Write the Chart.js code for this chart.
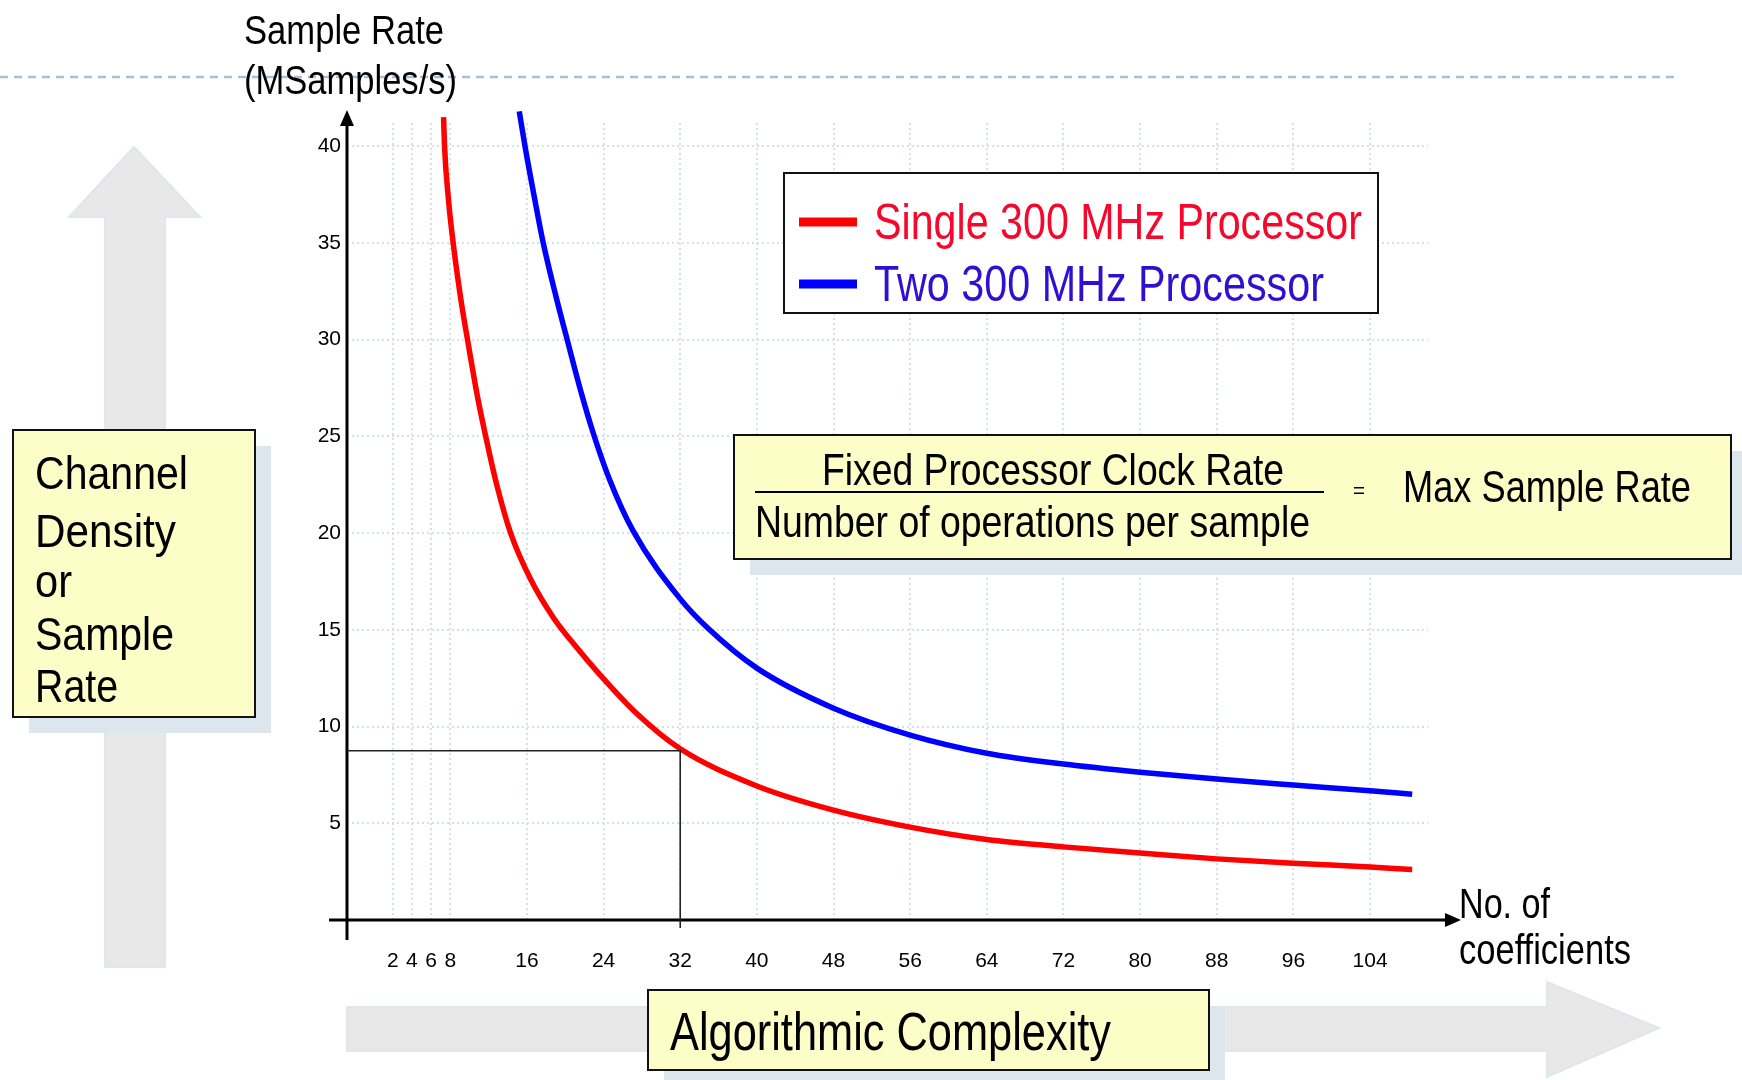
<!DOCTYPE html>
<html>
<head>
<meta charset="utf-8">
<script src="https://cdn.jsdelivr.net/npm/chart.js@4.4.1/dist/chart.umd.min.js"></script>
<style>
  html, body { margin: 0; padding: 0; background: #fff; overflow: hidden; }
  #chart { display: block; }
</style>
</head>
<body>
<canvas id="chart" width="1742" height="1080"></canvas>
<script>
// values (no. of coefficients -> MSamples/s)
const seriesNames = ["Single 300 MHz Processor", "Two 300 MHz Processor"];
const singleX = [7.3, 7.4, 7.8, 8.3, 9.1, 9.8, 10.9, 11.7, 12.8, 14.3, 16.4, 18.8, 21, 23.7, 27.4, 32, 40, 48, 56, 64, 72, 80, 88, 96, 104, 108.4];
const singleY = [41.5, 40, 37.3, 35, 32.1, 30, 26.9, 25, 22.6, 20, 17.6, 15.6, 14.2, 12.63, 10.7, 8.85, 6.93, 5.68, 4.8, 4.16, 3.78, 3.46, 3.16, 2.93, 2.74, 2.61];
const twoX = [15.2, 15.8, 16.8, 17.7, 19.1, 20.2, 21.7, 22.9, 24.6, 27.1, 32, 34.9, 40, 48, 56, 64, 72, 80, 88, 96, 104, 108.4];
const twoY = [41.8, 40, 37.3, 35, 32.1, 30, 27.2, 25.2, 22.8, 20.1, 16.6, 15.08, 13.02, 10.95, 9.56, 8.62, 8.06, 7.64, 7.29, 6.98, 6.68, 6.5];
const xTicks = [2, 4, 6, 8, 16, 24, 32, 40, 48, 56, 64, 72, 80, 88, 96, 104];
const yTicks = [5, 10, 15, 20, 25, 30, 35, 40];
const markX = 32, markY = 8.75;

const SANS = "'Liberation Sans', Arial, sans-serif";

function fitText(ctx, txt, x, y, size, w, color) {
  ctx.save();
  ctx.font = size + "px " + SANS;
  ctx.fillStyle = color || "#000";
  ctx.textBaseline = "alphabetic";
  ctx.textAlign = "left";
  const m = ctx.measureText(txt).width;
  ctx.translate(x, y);
  ctx.scale(w / m, 1);
  ctx.fillText(txt, 0, 0);
  ctx.restore();
}

function box(ctx, x, y, w, h, shadow) {
  ctx.save();
  if (shadow) {
    ctx.fillStyle = "#dce6ec";
    ctx.fillRect(x + shadow, y + shadow, w, h);
  }
  ctx.fillStyle = "#fdfdc8";
  ctx.fillRect(x, y, w, h);
  ctx.strokeStyle = "#111";
  ctx.lineWidth = 2;
  ctx.strokeRect(x, y, w, h);
  ctx.restore();
}

function poly(ctx, pts, fill, stroke) {
  ctx.save();
  ctx.beginPath();
  pts.forEach((p, i) => i ? ctx.lineTo(p[0], p[1]) : ctx.moveTo(p[0], p[1]));
  ctx.closePath();
  ctx.fillStyle = fill;
  ctx.fill();
  ctx.strokeStyle = stroke;
  ctx.lineWidth = 2;
  ctx.stroke();
  ctx.restore();
}

const decor = {
  id: "decor",
  beforeDraw(chart) {
    const ctx = chart.ctx;
    ctx.save();
    ctx.fillStyle = "#fff";
    ctx.fillRect(0, 0, chart.width, chart.height);

    // dashed rule at the top
    ctx.strokeStyle = "#a9bfd6";
    ctx.lineWidth = 2.5;
    ctx.setLineDash([8, 6]);
    ctx.beginPath();
    ctx.moveTo(0, 77);
    ctx.lineTo(1675, 77);
    ctx.stroke();
    ctx.setLineDash([]);
    ctx.restore();

    // big grey arrows
    poly(ctx, [[105, 967], [105, 217], [69, 217], [134, 147], [200, 217], [165, 217], [165, 967]], "#e8e8e8", "#dde7ec");
    poly(ctx, [[347, 1007], [1547, 1007], [1547, 982], [1659, 1028], [1547, 1077], [1547, 1051], [347, 1051]], "#e8e8e8", "#dde7ec");

    // left label box
    box(ctx, 13, 430, 242, 287, 16);
    const lines = [["Channel", 489, 153], ["Density", 547, 141], ["or", 597, 37], ["Sample", 650, 139], ["Rate", 702, 83]];
    lines.forEach(l => fitText(ctx, l[0], 35, l[1], 46, l[2]));
  },
  afterDraw(chart) {
    const ctx = chart.ctx;
    const xs = chart.scales.x, ys = chart.scales.y;
    const x0 = xs.left, y0 = ys.getPixelForValue(0);

    ctx.save();
    // axes with arrow heads
    ctx.strokeStyle = "#000";
    ctx.fillStyle = "#000";
    ctx.lineWidth = 3;
    ctx.beginPath();
    ctx.moveTo(x0, 940);
    ctx.lineTo(x0, 120);
    ctx.moveTo(329, y0);
    ctx.lineTo(1450, y0);
    ctx.stroke();
    ctx.beginPath();
    ctx.moveTo(x0, 110); ctx.lineTo(x0 - 7, 126); ctx.lineTo(x0 + 7, 126); ctx.closePath();
    ctx.fill();
    ctx.beginPath();
    ctx.moveTo(1461, y0); ctx.lineTo(1445, y0 - 7); ctx.lineTo(1445, y0 + 7); ctx.closePath();
    ctx.fill();

    // guide lines at 32 coefficients
    const gx = xs.getPixelForValue(markX), gy = ys.getPixelForValue(markY);
    ctx.strokeStyle = "#222";
    ctx.lineWidth = 1.6;
    ctx.beginPath();
    ctx.moveTo(x0, gy);
    ctx.lineTo(gx, gy);
    ctx.lineTo(gx, y0 + 8);
    ctx.stroke();
    ctx.restore();

    // legend box
    ctx.save();
    ctx.fillStyle = "#fff";
    ctx.fillRect(784, 173, 594, 140);
    ctx.strokeStyle = "#111";
    ctx.lineWidth = 2;
    ctx.strokeRect(784, 173, 594, 140);
    const legendRows = [[222, 239, 488, "#f5082c"], [284, 301, 450, "#3010d0"]];
    chart.data.datasets.forEach((ds, i) => {
      const r = legendRows[i];
      ctx.fillStyle = ds.borderColor;
      ctx.fillRect(799, r[0] - 4.5, 58, 9);
      fitText(ctx, ds.label, 874, r[1], 50, r[2], r[3]);
    });
    ctx.restore();

    // formula box
    box(ctx, 734, 435, 997, 124, 16);
    fitText(ctx, "Fixed Processor Clock Rate", 822, 485, 45, 462);
    ctx.save();
    ctx.strokeStyle = "#000";
    ctx.lineWidth = 2;
    ctx.beginPath();
    ctx.moveTo(755, 492);
    ctx.lineTo(1324, 492);
    ctx.stroke();
    ctx.restore();
    fitText(ctx, "Number of operations per sample", 755, 537, 45, 555);
    fitText(ctx, "=", 1353, 498, 22, 12);
    fitText(ctx, "Max Sample Rate", 1403, 502, 45, 288);

    // bottom label box
    box(ctx, 648, 990, 561, 80, 16);
    fitText(ctx, "Algorithmic Complexity", 670, 1050, 53, 441);

    // axis titles
    fitText(ctx, "Sample Rate", 244, 44, 41, 200);
    fitText(ctx, "(MSamples/s)", 244, 94, 41, 213);
    fitText(ctx, "No. of", 1459, 918, 42, 91);
    fitText(ctx, "coefficients", 1459, 964, 42, 172);
  }
};

const ctx = document.getElementById("chart").getContext("2d");
new Chart(ctx, {
  type: "line",
  data: {
    datasets: [
      {
        label: seriesNames[0],
        data: singleX.map((x, i) => ({ x: x, y: singleY[i] })),
        borderColor: "#ff0000",
        borderWidth: 5.5,
        pointRadius: 0,
        cubicInterpolationMode: "monotone",
        fill: false,
        clip: false
      },
      {
        label: seriesNames[1],
        data: twoX.map((x, i) => ({ x: x, y: twoY[i] })),
        borderColor: "#0000ff",
        borderWidth: 5.5,
        pointRadius: 0,
        cubicInterpolationMode: "monotone",
        fill: false,
        clip: false
      }
    ]
  },
  options: {
    responsive: false,
    animation: false,
    devicePixelRatio: 1,
    layout: { padding: { top: 123, right: 314, bottom: 0, left: 0 } },
    plugins: { legend: { display: false }, tooltip: { enabled: false } },
    scales: {
      x: {
        type: "linear",
        min: -2.78,
        max: 110.05,
        afterBuildTicks: s => { s.ticks = xTicks.map(v => ({ value: v })); },
        afterFit: s => { s.height = 160; },
        grid: { color: "#d4e1e8", lineWidth: 2, drawTicks: false },
        border: { display: false, dash: [2, 3] },
        ticks: {
          autoSkip: false, maxRotation: 0, padding: 29, color: "#000",
          font: { family: SANS, size: 21 },
          callback: v => String(v)
        }
      },
      y: {
        min: 0,
        max: 41.2,
        afterBuildTicks: s => { s.ticks = yTicks.map(v => ({ value: v })); },
        afterFit: s => { s.width = 347; },
        grid: { color: "#d4e1e8", lineWidth: 2, drawTicks: false },
        border: { display: false, dash: [2, 3] },
        ticks: {
          padding: 6, color: "#000",
          font: { family: SANS, size: 21 },
          callback: v => String(v)
        }
      }
    }
  },
  plugins: [decor]
});
</script>
</body>
</html>
